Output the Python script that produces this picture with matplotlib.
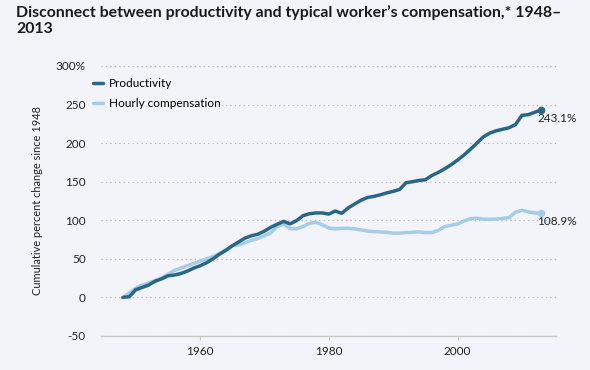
import numpy as np
import matplotlib
matplotlib.use("Agg")
import matplotlib.pyplot as plt

# cumulative percent change since 1948
years = list(range(1948, 2014))
productivity = [
    0, 1, 10, 13, 16, 21, 24, 28, 29, 31, 34, 38, 41, 45, 50, 56, 61, 67, 72, 77,
    80, 82, 86, 91, 95, 98.6, 95.4, 99.6, 106, 108.5, 109.5, 109.5, 108, 112, 109, 116,
    121, 126, 129.5, 131, 133, 135.5, 137.5, 140, 148.7, 150, 151.7, 152.5, 158, 162,
    166.7, 172, 178, 184.6, 192, 200, 208, 213, 216, 218, 220, 224, 236, 237, 240, 243.1,
]
compensation = [
    0, 6, 12, 16, 18.6, 22, 25, 30, 35, 38, 41, 44, 47, 50, 53, 57, 62, 67, 68, 71,
    74, 76.5, 80, 84, 92, 95.4, 89, 89, 92, 96, 97.4, 94, 90, 89, 89.5, 89.7,
    89, 87.5, 86, 85.4, 85, 84.5, 83.3, 83.3, 84, 84.5, 85, 84, 84, 87,
    91.8, 93.5, 95.2, 99, 102, 102.6, 101.5, 101.3, 101.5, 102.5, 103.4, 110.5, 113, 111, 109.5, 108.9,
]
series_names = ["Productivity", "Hourly compensation"]
end_labels = ["243.1%", "108.9%"]
y_ticks = [-50, 0, 50, 100, 150, 200, 250, 300]
y_ticklabels = ["-50", "0", "50", "100", "150", "200", "250", "300%"]
x_ticks = [1960, 1980, 2000]

bg = "#f2f4f9"
dark = "#2a6686"
light = "#a6cce8"
plt.rcParams['font.family'] = ['Lato', 'DejaVu Sans']

fig = plt.figure(figsize=(5.9, 3.7), dpi=100, facecolor=bg)
ax = fig.add_axes([101/590, 1-336/370, 455/590, 270/370], facecolor=bg)

ax.plot(years, productivity, color=dark, lw=2.5, label=series_names[0], solid_capstyle='round', zorder=3)
ax.plot(years, compensation, color=light, lw=2.5, label=series_names[1], solid_capstyle='round', zorder=2)
ax.plot(years[-1], productivity[-1], 'o', color=dark, ms=4.5, zorder=4)
ax.plot(years[-1], compensation[-1], 'o', color=light, ms=4.5, zorder=4)
ax.annotate(end_labels[0], (years[-1], productivity[-1]), xytext=(-3, -6), textcoords='offset points',
            ha='left', va='center', fontsize=8.5, color='#222222')
ax.annotate(end_labels[1], (years[-1], compensation[-1]), xytext=(-3, -6), textcoords='offset points',
            ha='left', va='center', fontsize=8.5, color='#222222')

ax.set_xlim(1944.6, 2015.3)
ax.set_ylim(-50, 300)
ax.set_yticks(y_ticks)
ax.set_yticklabels(y_ticklabels)
ax.set_xticks(x_ticks)
ax.yaxis.grid(True, color='#b0b0b0', linestyle=(0, (1, 3)), lw=0.8)
ax.set_axisbelow(True)
for s in ['top', 'right', 'left']:
    ax.spines[s].set_visible(False)
ax.spines['bottom'].set_color('#c8c8c8')
ax.spines['bottom'].set_linewidth(1)
ax.tick_params(axis='y', length=0, pad=11, labelsize=8.5, colors='#222222')
ax.tick_params(axis='x', length=3, pad=4, labelsize=8.5, colors='#c8c8c8', labelcolor='#222222')
ax.set_ylabel("Cumulative percent change since 1948", fontsize=7.9, color='#222222', labelpad=9)

leg = fig.legend(loc='upper left', bbox_to_anchor=(92/590, 1-77/370), frameon=True, fontsize=8.5,
                 handlelength=0.8, handletextpad=0.5, labelspacing=0.75, borderpad=0.1,
                 borderaxespad=0)
leg.get_frame().set_facecolor(bg)
leg.get_frame().set_edgecolor(bg)
leg.get_frame().set_alpha(1)
for line in leg.get_lines():
    line.set_linewidth(2.5)

fig.text(16/590, 1-5/370, "Disconnect between productivity and typical worker\u2019s compensation,* 1948\u2013\n2013",
         ha='left', va='top', fontsize=11.4, fontweight='bold', color='#1a1a1a', linespacing=1.15)

fig.savefig("out.png", dpi=100, facecolor=bg)
